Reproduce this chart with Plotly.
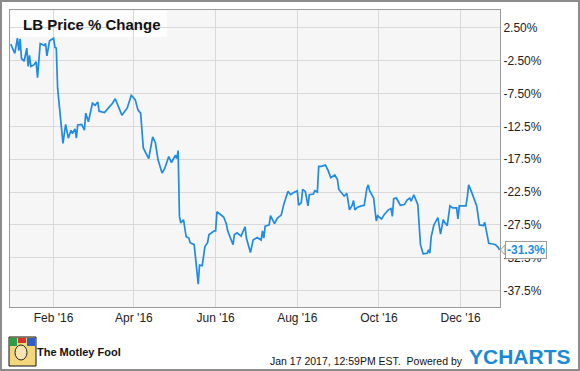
import plotly.graph_objects as go

# ---------------- data ----------------
dates = [
    "2015-12-31", "2016-01-03", "2016-01-05", "2016-01-06", "2016-01-07", "2016-01-08", "2016-01-10",
    "2016-01-12", "2016-01-13", "2016-01-14", "2016-01-15", "2016-01-17", "2016-01-19", "2016-01-20",
    "2016-01-22", "2016-01-25", "2016-01-26", "2016-01-27", "2016-01-29",
    "2016-02-01", "2016-02-02", "2016-02-03", "2016-02-04", "2016-02-06", "2016-02-08", "2016-02-10",
    "2016-02-12", "2016-02-14", "2016-02-15", "2016-02-17", "2016-02-18", "2016-02-19", "2016-02-22",
    "2016-02-24", "2016-02-25", "2016-02-27",
    "2016-03-01", "2016-03-03", "2016-03-05", "2016-03-06", "2016-03-10", "2016-03-13", "2016-03-16",
    "2016-03-18", "2016-03-20", "2016-03-23", "2016-03-27", "2016-03-30", "2016-03-31",
    "2016-04-02", "2016-04-04", "2016-04-06", "2016-04-08", "2016-04-12", "2016-04-15", "2016-04-17",
    "2016-04-19", "2016-04-22", "2016-04-24", "2016-04-27", "2016-04-29",
    "2016-05-02", "2016-05-03", "2016-05-04", "2016-05-05", "2016-05-06", "2016-05-08", "2016-05-10",
    "2016-05-12", "2016-05-13", "2016-05-16", "2016-05-17", "2016-05-19", "2016-05-20", "2016-05-22",
    "2016-05-24", "2016-05-26", "2016-05-27", "2016-05-31",
    "2016-06-01", "2016-06-02", "2016-06-07", "2016-06-09", "2016-06-10", "2016-06-14", "2016-06-15",
    "2016-06-17", "2016-06-20", "2016-06-23", "2016-06-24", "2016-06-27", "2016-06-29",
    "2016-07-02", "2016-07-05", "2016-07-06", "2016-07-07", "2016-07-08", "2016-07-11", "2016-07-12",
    "2016-07-15", "2016-07-17", "2016-07-20", "2016-07-22", "2016-07-25", "2016-07-27", "2016-07-29",
    "2016-08-01", "2016-08-02", "2016-08-04", "2016-08-05", "2016-08-07", "2016-08-09", "2016-08-10",
    "2016-08-13", "2016-08-14", "2016-08-16", "2016-08-17", "2016-08-19", "2016-08-22", "2016-08-24",
    "2016-08-26", "2016-08-29", "2016-08-31",
    "2016-09-01", "2016-09-03", "2016-09-05", "2016-09-07", "2016-09-09", "2016-09-11", "2016-09-12",
    "2016-09-13", "2016-09-15", "2016-09-18", "2016-09-20", "2016-09-22", "2016-09-23", "2016-09-24",
    "2016-09-27", "2016-09-29", "2016-09-30",
    "2016-10-03", "2016-10-05", "2016-10-08", "2016-10-10", "2016-10-11", "2016-10-12", "2016-10-14",
    "2016-10-17", "2016-10-20", "2016-10-22", "2016-10-24", "2016-10-25", "2016-10-27", "2016-10-30",
    "2016-11-01", "2016-11-03", "2016-11-06", "2016-11-07", "2016-11-08", "2016-11-09", "2016-11-11",
    "2016-11-14", "2016-11-16", "2016-11-18", "2016-11-19", "2016-11-21", "2016-11-23", "2016-11-25",
    "2016-11-28", "2016-11-29", "2016-11-30",
    "2016-12-05", "2016-12-06", "2016-12-07", "2016-12-09", "2016-12-12", "2016-12-13", "2016-12-15",
    "2016-12-18", "2016-12-19", "2016-12-22", "2016-12-25", "2016-12-27", "2016-12-29", "2016-12-30",
]

pct_change = [
    0.0, -1.4, 0.9, -1.0, 0.8, -2.2, -2.6, -0.6, -3.4, -1.7, -3.4, -3.2, -2.7, -5.1, 0.1, -0.2, 0.1, -1.8, 0.5,
    0.9, -0.5, -0.6, -6.7, -11.3, -15.1, -12.2, -14.3, -13.1, -13.6, -12.9, -14.3, -12.3, -12.2, -13.1, -10.5, -11.8,
    -9.0, -9.3, -8.8, -10.2, -10.4, -9.7, -9.0, -8.3, -9.3, -10.8, -9.7, -7.8, -8.0,
    -8.5, -10.0, -10.5, -15.8, -17.4, -14.1, -15.0, -17.6, -19.6, -18.9, -17.1, -18.0,
    -16.9, -17.4, -16.2, -26.2, -27.2, -26.7, -29.3, -29.5, -30.2, -30.5, -32.3, -36.5, -33.6, -33.7, -30.8, -30.2,
    -29.0, -28.4,
    -28.4, -25.5, -26.3, -27.3, -28.4, -30.5, -29.0, -28.7, -29.2, -27.8, -29.5, -31.7, -29.8,
    -29.4, -29.8, -28.4, -29.5, -27.7, -27.5, -26.1, -27.3, -26.5, -26.0, -24.3, -22.4, -22.9, -22.6,
    -22.3, -24.5, -24.1, -22.1, -22.4, -24.6, -22.9, -22.8, -22.3, -22.5, -18.6, -18.6, -18.4, -19.2, -20.3, -19.9,
    -20.6,
    -22.1, -22.7, -23.1, -22.7, -25.2, -24.5, -23.8, -25.2, -24.8, -24.6, -24.5, -21.9, -21.4, -22.3, -23.4, -26.9,
    -26.1,
    -26.6, -25.9, -25.2, -25.0, -26.2, -23.5, -23.4, -24.5, -24.4, -23.7, -23.4, -23.9, -22.9, -24.4,
    -30.5, -31.9, -31.8, -31.3, -31.8, -29.3, -27.5, -26.4, -28.9, -26.7, -27.1, -27.6, -24.6, -24.9, -24.9, -26.6,
    -24.6,
    -24.6, -23.2, -21.4, -22.4, -23.9, -24.6, -27.5, -27.6, -27.1, -30.3, -30.4, -30.5, -30.9, -31.3,
]
assert len(dates) == len(pct_change)

y_tickvals = [2.5, -2.5, -7.5, -12.5, -17.5, -22.5, -27.5, -32.5, -37.5]
y_ticktext = ["2.50%", "-2.50%", "-7.50%", "-12.5%", "-17.5%", "-22.5%", "-27.5%", "-32.5%", "-37.5%"]
x_tickvals = ["2016-02-01", "2016-04-01", "2016-06-01", "2016-08-01", "2016-10-01", "2016-12-01"]
x_ticktext = ["Feb '16", "Apr '16", "Jun '16", "Aug '16", "Oct '16", "Dec '16"]

title_text = "LB Price % Change"
footer_text = "Jan 17 2017, 12:59PM EST.  Powered by"
brand_text = "YCHARTS"
fool_text = "The Motley Fool"

# ---------------- layout geometry ----------------
W, H = 580, 371
ML, MR, MT, MB = 10, 80, 10, 64
PW, PH = W - ML - MR, H - MT - MB

def fx(px):
    return (px - ML) / PW

def fy(py):
    return (H - MB - py) / PH

FONT = "Liberation Sans, Arial, sans-serif"
LINE_BLUE = "#1e8be6"
TEXT = "#222222"

fig = go.Figure()
fig.add_trace(go.Scatter(
    x=dates, y=pct_change, mode="lines",
    line=dict(color=LINE_BLUE, width=1.7),
    hoverinfo="skip", showlegend=False,
))

fig.update_layout(
    width=W, height=H,
    margin=dict(l=ML, r=MR, t=MT, b=MB, pad=0),
    paper_bgcolor="white",
    plot_bgcolor="#f6f6f6",
    font=dict(family=FONT, size=12, color=TEXT),
    xaxis=dict(
        type="date",
        range=["2015-12-30 10:30", "2016-12-30 09:30"],
        tickvals=x_tickvals, ticktext=x_ticktext,
        showgrid=True, gridcolor="#d9d9d9", gridwidth=1,
        showline=True, linecolor="#9a9a9a", linewidth=1, mirror=True,
        ticks="", zeroline=False,
        tickfont=dict(size=12, color=TEXT),
    ),
    yaxis=dict(
        range=[-39.98, 5.19],
        side="right",
        tickvals=y_tickvals, ticktext=y_ticktext,
        showgrid=True, gridcolor="#d9d9d9", gridwidth=1,
        showline=True, linecolor="#9a9a9a", linewidth=1, mirror=True,
        ticks="", zeroline=False,
        tickfont=dict(size=12, color=TEXT),
    ),
)

shapes = []
# outer frame of the picture
shapes.append(dict(type="rect", xref="paper", yref="paper",
                   x0=fx(1), x1=fx(W - 1), y0=fy(H - 1), y1=fy(1),
                   line=dict(color="#8c8c8c", width=2), fillcolor="rgba(0,0,0,0)", layer="above"))
# title backdrop
shapes.append(dict(type="rect", xref="paper", yref="paper",
                   x0=fx(10.5), x1=fx(167), y0=fy(37), y1=fy(10.5),
                   line=dict(width=0), fillcolor="rgba(255,255,255,0.75)", layer="below"))
# pointer of last-value label
last_val = pct_change[-1]
shapes.append(dict(type="path", xref="paper", yref="y",
                   path=f"M {fx(505)} {last_val + 0.75} L {fx(500.5)} {last_val} L {fx(505)} {last_val - 0.75} Z",
                   line=dict(color="#9a9a9a", width=1), fillcolor="white", layer="above"))
# Motley Fool jester badge (approximation)
shapes.append(dict(type="rect", xref="paper", yref="paper",
                   x0=fx(9), x1=fx(36), y0=fy(366), y1=fy(337),
                   line=dict(color="#111111", width=1), fillcolor="#f3d77a", layer="above"))
shapes.append(dict(type="rect", xref="paper", yref="paper",
                   x0=fx(10), x1=fx(17), y0=fy(346), y1=fy(338),
                   line=dict(width=0), fillcolor="#2e9d48", layer="above"))
shapes.append(dict(type="rect", xref="paper", yref="paper",
                   x0=fx(18), x1=fx(26), y0=fy(343), y1=fy(338),
                   line=dict(width=0), fillcolor="#d8322b", layer="above"))
shapes.append(dict(type="rect", xref="paper", yref="paper",
                   x0=fx(27), x1=fx(35), y0=fy(346), y1=fy(338),
                   line=dict(width=0), fillcolor="#2d5fc4", layer="above"))
shapes.append(dict(type="circle", xref="paper", yref="paper",
                   x0=fx(15), x1=fx(27), y0=fy(360), y1=fy(345),
                   line=dict(color="#222", width=1), fillcolor="#f7e4b5", layer="above"))
fig.update_layout(shapes=shapes)

annotations = [
    dict(xref="paper", yref="paper", x=fx(20.5), y=fy(24), xanchor="left", yanchor="middle",
         text=f"<b>{title_text}</b>", showarrow=False,
         font=dict(family=FONT, size=15, color="#111111")),
    dict(xref="paper", yref="y", x=fx(504.5), y=last_val, xanchor="left", yanchor="middle",
         text=f"<b>{last_val:.1f}%</b>", showarrow=False,
         font=dict(family=FONT, size=12, color=LINE_BLUE),
         bgcolor="white", bordercolor="#9a9a9a", borderwidth=1, borderpad=1),
    dict(xref="paper", yref="paper", x=fx(465), y=fy(361), xanchor="right", yanchor="middle",
         text=footer_text, showarrow=False,
         font=dict(family=FONT, size=10.5, color="#111111")),
    dict(xref="paper", yref="paper", x=fx(467), y=fy(357), xanchor="left", yanchor="middle",
         text=f"<b>{brand_text}</b>", showarrow=False,
         font=dict(family=FONT, size=21, color="#1a8ad6")),
    dict(xref="paper", yref="paper", x=fx(35), y=fy(352), xanchor="left", yanchor="middle",
         text=f"<b>{fool_text}</b>", showarrow=False,
         font=dict(family=FONT, size=11, color="#111111")),
]
fig.update_layout(annotations=annotations)

fig.write_html("out.html")
